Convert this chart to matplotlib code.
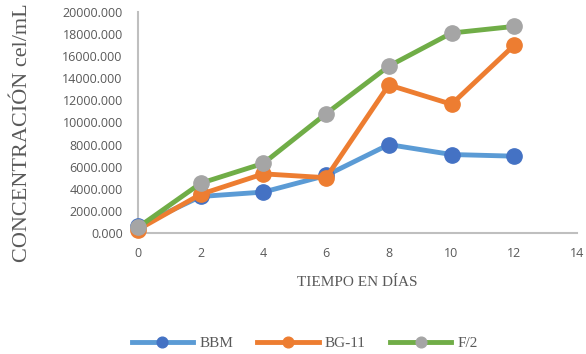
import matplotlib
matplotlib.use("Agg")
import matplotlib.pyplot as plt
from matplotlib.ticker import FuncFormatter

dias = [0, 2, 4, 6, 8, 10, 12]
bbm = [600, 3300, 3700, 5200, 8000, 7100, 6950]
bg11 = [300, 3500, 5350, 5000, 13400, 11650, 17000]
f2 = [500, 4500, 6300, 10800, 15100, 18100, 18700]

series = [
    ("BBM", bbm, "#5B9BD5", "#4472C4"),
    ("BG-11", bg11, "#ED7D31", "#ED7D31"),
    ("F/2", f2, "#70AD47", "#A5A5A5"),
]

fig = plt.figure(figsize=(5.86, 3.54), dpi=100)
ax = fig.add_axes([0.2355, 0.342, 0.749, 0.624])

for name, vals, lc, mc in series:
    ax.plot(dias, vals, color=lc, lw=3.5, marker="o", ms=11,
            markerfacecolor=mc, markeredgecolor=mc, label=name, zorder=3,
            clip_on=False)

ax.set_xlim(0, 14)
ax.set_ylim(0, 20000)
ax.set_xticks(range(0, 15, 2))
ax.set_yticks(range(0, 20001, 2000))
ax.yaxis.set_major_formatter(FuncFormatter(lambda v, p: f"{v:.3f}"))

for s in ["top", "right"]:
    ax.spines[s].set_visible(False)
for s in ["left", "bottom"]:
    ax.spines[s].set_color("#BFBFBF")
    ax.spines[s].set_linewidth(1.5)
ax.tick_params(length=0, labelsize=9, labelcolor="#595959")
ax.tick_params(axis="y", pad=11)
ax.tick_params(axis="x", pad=10)
for lab in ax.get_xticklabels() + ax.get_yticklabels():
    lab.set_family("Open Sans")

ax.set_xlabel("TIEMPO EN DÍAS", family="Liberation Serif", fontsize=11,
              color="#595959", labelpad=12)
fig.text(0.038, 0.625, "CONCENTRACIÓN cel/mL", rotation=90, ha="center",
         va="center", family="Liberation Serif", fontsize=16, color="#595959")

leg = fig.legend(loc="center", bbox_to_anchor=(0.52, 0.03), ncol=3,
                 frameon=False, prop={"family": "Liberation Serif", "size": 11},
                 handlelength=4.0, columnspacing=1.6, handletextpad=0.4,
                 markerscale=0.7)
for t in leg.get_texts():
    t.set_color("#595959")

fig.savefig("out.png", dpi=100)
